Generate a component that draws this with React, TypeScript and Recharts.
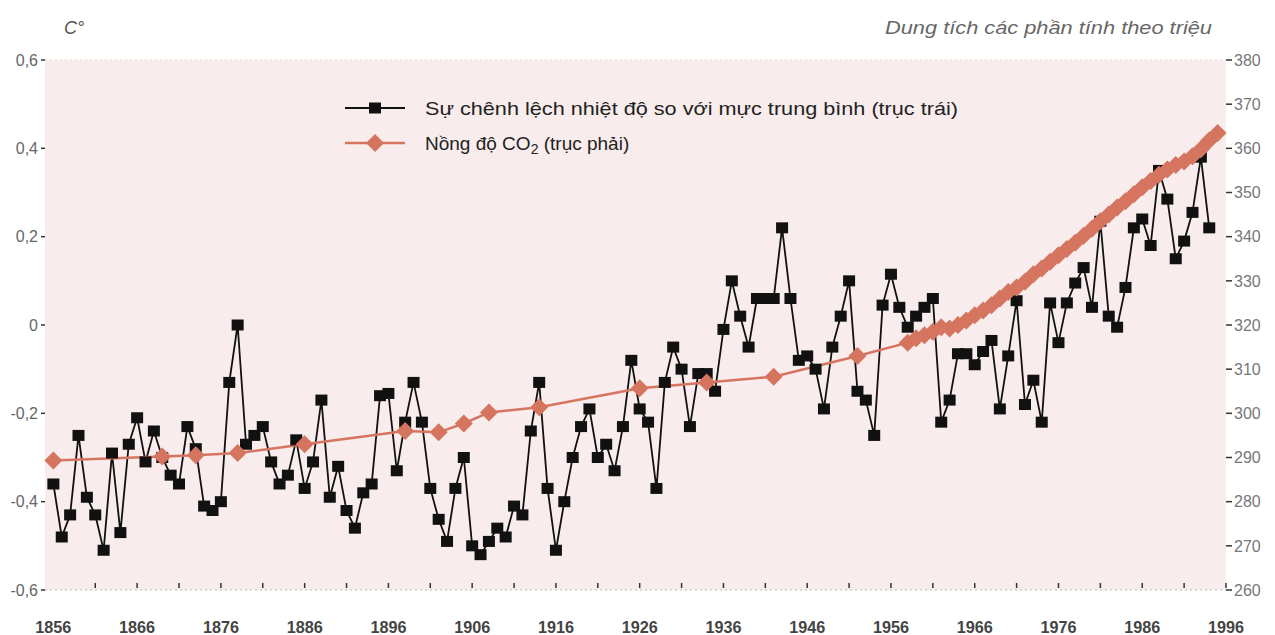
import { ComposedChart, Line, XAxis, YAxis, CartesianGrid, ReferenceLine } from "recharts";

const FONT = '"Liberation Sans", Arial, sans-serif';
const SALMON = "#D6755F";

// temperature difference from the mean, one value per year from 1856
const tempStartYear = 1856;
const tempAnomaly = [
  -0.36, -0.48, -0.43, -0.25, -0.39, -0.43, -0.51, -0.29, -0.47, -0.27,
  -0.21, -0.31, -0.24, -0.30, -0.34, -0.36, -0.23, -0.28, -0.41, -0.42,
  -0.40, -0.13, 0.0, -0.27, -0.25, -0.23, -0.31, -0.36, -0.34, -0.26,
  -0.37, -0.31, -0.17, -0.39, -0.32, -0.42, -0.46, -0.38, -0.36, -0.16,
  -0.155, -0.33, -0.22, -0.13, -0.22, -0.37, -0.44, -0.49, -0.37, -0.30,
  -0.50, -0.52, -0.49, -0.46, -0.48, -0.41, -0.43, -0.24, -0.13, -0.37,
  -0.51, -0.40, -0.30, -0.23, -0.19, -0.30, -0.27, -0.33, -0.23, -0.08,
  -0.19, -0.22, -0.37, -0.13, -0.05, -0.10, -0.23, -0.11, -0.11, -0.15,
  -0.01, 0.10, 0.02, -0.05, 0.06, 0.06, 0.06, 0.22, 0.06, -0.08,
  -0.07, -0.10, -0.19, -0.05, 0.02, 0.10, -0.15, -0.17, -0.25, 0.045,
  0.115, 0.04, -0.005, 0.02, 0.04, 0.06, -0.22, -0.17, -0.065, -0.065,
  -0.09, -0.06, -0.035, -0.19, -0.07, 0.055, -0.18, -0.125, -0.22, 0.05,
  -0.04, 0.05, 0.095, 0.13, 0.04, 0.235, 0.02, -0.005, 0.085, 0.22,
  0.24, 0.18, 0.35, 0.285, 0.15, 0.19, 0.255, 0.38, 0.22,
];

// CO2 concentration (ppm): sparse early samples, then yearly
const co2Years = [
  1856, 1869, 1873, 1878, 1886, 1898, 1902, 1905, 1908, 1914, 1926, 1934, 1942, 1952,
  1958, 1959, 1960, 1961, 1962, 1963, 1964, 1965, 1966, 1967, 1968, 1969, 1970,
  1971, 1972, 1973, 1974, 1975, 1976, 1977, 1978, 1979, 1980, 1981, 1982, 1983,
  1984, 1985, 1986, 1987, 1988, 1989, 1990, 1991, 1992, 1993, 1994, 1995,
];
const co2Values = [
  289.3, 290.2, 290.5, 291, 293, 296, 295.7, 297.7, 300.2, 301.4, 305.7, 307, 308.3, 313,
  316, 317, 317.7, 318.5, 319.5, 319.2, 320, 321, 322.2, 323.3, 324.5, 326, 327.5,
  328.5, 329.8, 331.5, 332.8, 334.3, 335.8, 337.2, 338.6, 340.2, 341.8, 343.5, 345, 346.6,
  348, 349.6, 351.2, 352.6, 354, 355.2, 356.2, 357, 358.2, 359.8, 361.8, 363.5,
];

const xTicks = [
  1856, 1861, 1866, 1871, 1876, 1881, 1886, 1891, 1896, 1901, 1906, 1911, 1916, 1921,
  1926, 1931, 1936, 1941, 1946, 1951, 1956, 1961, 1966, 1971, 1976, 1981, 1986, 1991, 1996,
];
const xLabels = [1856, 1866, 1876, 1886, 1896, 1906, 1916, 1926, 1936, 1946, 1956, 1966, 1976, 1986, 1996];
const leftTicks = [-0.6, -0.4, -0.2, 0, 0.2, 0.4, 0.6];
const rightTicks = [260, 270, 280, 290, 300, 310, 320, 330, 340, 350, 360, 370, 380];

const tempData = tempAnomaly.map((v, i) => ({ year: tempStartYear + i, temp: v }));
const co2Data = co2Years.map((y, i) => ({ year: y, co2: co2Values[i] }));

const fmtLeft = (v: number) => (v === 0 ? "0" : v.toFixed(1).replace(".", ","));

const SquareDot = (p: any) => (
  <rect key={p.key} x={p.cx - 6} y={p.cy - 5.5} width={12} height={11} fill="#111" />
);

const Diamond = (p: any) => (
  <polygon
    key={p.key}
    points={`${p.cx},${p.cy - 9} ${p.cx + 9},${p.cy} ${p.cx},${p.cy + 9} ${p.cx - 9},${p.cy}`}
    fill={SALMON}
  />
);

const XTick = (p: any) => {
  const { x, y, payload } = p;
  const yr = payload.value;
  return (
    <g>
      {yr !== 1856 && <line x1={x} x2={x} y1={y - 7} y2={y - 2} stroke="#333" strokeWidth={1.5} />}
      {xLabels.includes(yr) && (
        <text x={x} y={y + 43} textAnchor="middle" fontSize={16} fontWeight="bold" fill="#444" fontFamily={FONT}
          textLength={36} lengthAdjust="spacingAndGlyphs">
          {yr}
        </text>
      )}
    </g>
  );
};

export default function App() {
  return (
    <div style={{ position: "absolute", left: 0, top: 0, width: 1275, height: 635, background: "#fff", fontFamily: FONT }}>
      <ComposedChart width={1275} height={635} margin={{ top: 60, right: 0, bottom: 0, left: 0 }}>
        <CartesianGrid fill="#F8ECEC" stroke="none" />
        <XAxis
          dataKey="year"
          type="number"
          domain={[1855, 1996]}
          ticks={xTicks}
          interval={0}
          height={45}
          tickSize={0}
          tickMargin={0}
          tick={<XTick />}
          axisLine={{ stroke: "#bbb", strokeDasharray: "2 3" }}
          tickLine={false}
        />
        <YAxis
          yAxisId="left"
          domain={[-0.6, 0.6]}
          ticks={leftTicks}
          width={45}
          tickFormatter={fmtLeft}
          axisLine={false}
          tickSize={4}
          tickMargin={3}
          tickLine={{ stroke: "#333", strokeWidth: 1.5 }}
          tick={{ fill: "#666", fontSize: 16, fontFamily: FONT }}
        />
        <YAxis
          yAxisId="right"
          orientation="right"
          domain={[260, 380]}
          ticks={rightTicks}
          width={49}
          axisLine={false}
          tickSize={6}
          tickMargin={2}
          tickLine={{ stroke: "#333", strokeWidth: 1.5 }}
          tick={{ fill: "#777", fontSize: 16, fontFamily: FONT }}
        />
        <ReferenceLine yAxisId="left" y={0.6} stroke="#ddd" strokeDasharray="2 3" />
        <Line
          yAxisId="left"
          data={tempData}
          dataKey="temp"
          type="linear"
          stroke="#111"
          strokeWidth={1.8}
          dot={SquareDot}
          activeDot={false}
          isAnimationActive={false}
          name="temp"
        />
        <Line
          yAxisId="right"
          data={co2Data}
          dataKey="co2"
          type="linear"
          stroke={SALMON}
          strokeWidth={2.5}
          dot={Diamond}
          activeDot={false}
          isAnimationActive={false}
          name="co2"
        />
      </ComposedChart>
      <svg width={1275} height={635} style={{ position: "absolute", left: 0, top: 0, pointerEvents: "none" }}>
        <text x={64} y={34} fontSize={18} fontStyle="italic" fill="#555" fontFamily={FONT}>C°</text>
        <text x={1212} y={34} textAnchor="end" fontSize={18} fontStyle="italic" fill="#666" fontFamily={FONT}
          textLength={327} lengthAdjust="spacingAndGlyphs">
          Dung tích các phần tính theo triệu
        </text>
        {/* legend */}
        <line x1={345} x2={405} y1={108} y2={108} stroke="#111" strokeWidth={1.8} />
        <rect x={369} y={102.5} width={12} height={11} fill="#111" />
        <text x={425} y={108} dominantBaseline="central" fontSize={19} fill="#222" fontFamily={FONT}
          textLength={533} lengthAdjust="spacingAndGlyphs">
          Sự chênh lệch nhiệt độ so với mực trung bình (trục trái)
        </text>
        <line x1={345} x2={405} y1={143} y2={143} stroke={SALMON} strokeWidth={2.5} />
        <polygon points="375,134 384,143 375,152 366,143" fill={SALMON} />
        <text x={425} y={143} dominantBaseline="central" fontSize={19} fill="#222" fontFamily={FONT}>
          Nồng độ CO<tspan dy={6} fontSize={14}>2</tspan><tspan dy={-6}> (trục phải)</tspan>
        </text>
      </svg>
    </div>
  );
}
